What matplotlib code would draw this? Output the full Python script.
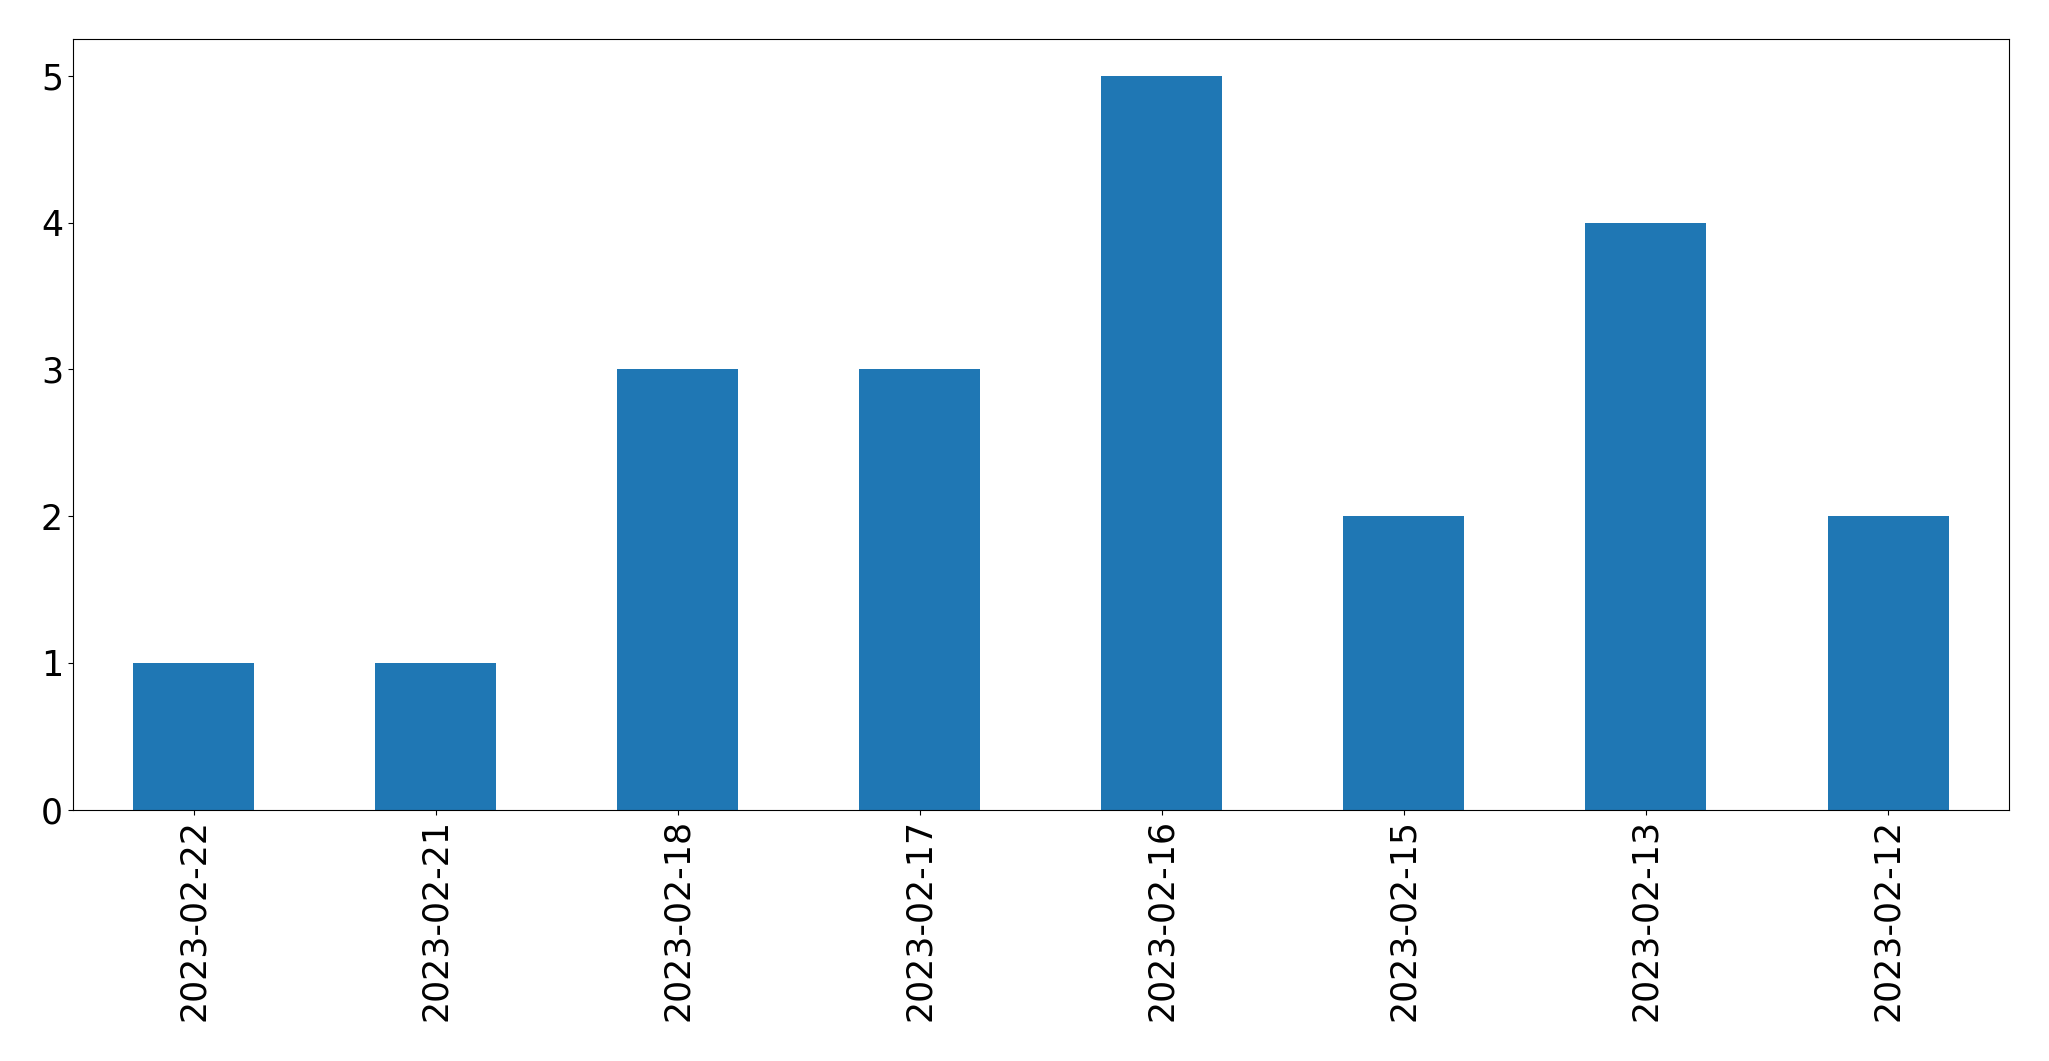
import matplotlib
matplotlib.use("Agg")
import matplotlib.pyplot as plt
import pandas as pd

dates = ["2023-02-22", "2023-02-21", "2023-02-18", "2023-02-17",
         "2023-02-16", "2023-02-15", "2023-02-13", "2023-02-12"]
counts = [1, 1, 3, 3, 5, 2, 4, 2]

s = pd.Series(counts, index=dates)

fig, ax = plt.subplots(figsize=(20.49, 10.61), dpi=100)
s.plot(kind="bar", ax=ax, color="#1f77b4")
ax.tick_params(axis="both", labelsize=25)
plt.subplots_adjust(left=0.0355, right=0.9805, top=0.963, bottom=0.237)
plt.savefig("out.png", dpi=100)
